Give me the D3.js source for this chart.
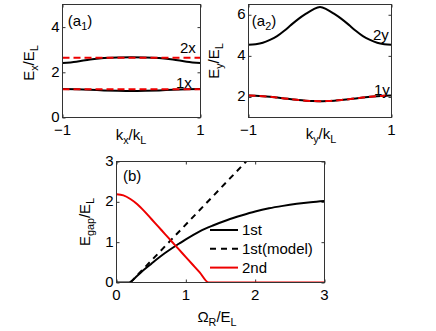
<!DOCTYPE html>
<html>
<head>
<meta charset="utf-8">
<script src="https://cdn.jsdelivr.net/npm/d3@7"></script>
<style>
  body { margin: 0; background: #fff; }
  text { font-family: "Liberation Sans", Arial, Helvetica, sans-serif; fill: #000; }
</style>
</head>
<body>
<div id="chart"></div>
<script>
// panel (a1): bands along kx
const kx = [-1, -0.8, -0.6, -0.4, -0.2, 0, 0.2, 0.4, 0.6, 0.8, 1];
const band1x = [1.26, 1.25, 1.23, 1.20, 1.18, 1.17, 1.18, 1.20, 1.23, 1.25, 1.26];
const band2x = [2.41, 2.47, 2.57, 2.63, 2.66, 2.67, 2.66, 2.63, 2.57, 2.47, 2.41];
const model1x = [1.25, 1.25, 1.25, 1.25, 1.25, 1.25, 1.25, 1.25, 1.25, 1.25, 1.25];
const model2x = [2.64, 2.64, 2.64, 2.64, 2.64, 2.64, 2.64, 2.64, 2.64, 2.64, 2.64];

// panel (a2): bands along ky
const ky = [-1, -0.9, -0.8, -0.7, -0.6, -0.5, -0.4, -0.3, -0.2, -0.1, 0,
            0.1, 0.2, 0.3, 0.4, 0.5, 0.6, 0.7, 0.8, 0.9, 1];
const band1y = [2.07, 2.06, 2.04, 2.01, 1.97, 1.93, 1.89, 1.85, 1.82, 1.80, 1.79,
                1.80, 1.82, 1.85, 1.89, 1.93, 1.97, 2.01, 2.04, 2.06, 2.07];
const band2y = [4.54, 4.57, 4.64, 4.78, 4.96, 5.22, 5.52, 5.80, 6.04, 6.25, 6.38,
                6.25, 6.04, 5.80, 5.52, 5.22, 4.96, 4.78, 4.64, 4.57, 4.54];
const model1y = [2.07, 2.06, 2.04, 2.01, 1.97, 1.93, 1.89, 1.85, 1.82, 1.80, 1.79,
                 1.80, 1.82, 1.85, 1.89, 1.93, 1.97, 2.01, 2.04, 2.06, 2.07];

// panel (b): gaps vs Rabi frequency
const omega1 = [0, 0.1, 0.18, 0.3, 0.4, 0.5, 0.6, 0.7, 0.8, 0.9, 1.0, 1.2, 1.4, 1.6, 1.8, 2.0, 2.2, 2.4, 2.6, 2.8, 3.0];
const gap1st = [0, 0, 0, 0.17, 0.32, 0.46, 0.60, 0.73, 0.85, 0.96, 1.07, 1.27, 1.42, 1.55, 1.66, 1.76, 1.84, 1.90, 1.95, 1.99, 2.02];
const omegaModel = [0.2, 1.87];
const gapModel = [0, 3];
const omega2 = [0, 0.1, 0.2, 0.3, 0.4, 0.5, 0.6, 0.7, 0.8, 0.9, 1.0, 1.1, 1.2, 1.33, 1.5, 2.0, 2.5, 3.0];
const gap2nd = [2.19, 2.16, 2.07, 1.94, 1.77, 1.58, 1.39, 1.20, 1.01, 0.82, 0.63, 0.44, 0.25, 0, 0, 0, 0, 0];

const legendLabels = ['1st', '1st(model)', '2nd'];

const width = 436, height = 331;
const svg = d3.select('#chart').append('svg')
    .attr('width', width)
    .attr('height', height);

svg.append('defs').selectAll('clipPath')
  .data(['a1', 'a2', 'b'])
  .join('clipPath')
    .attr('id', d => 'clip-' + d)
  .append('rect');

function panel(id, box, xDomain, yDomain, xTicks, yTicks) {
  const x = d3.scaleLinear().domain(xDomain).range([box.left, box.right]);
  const y = d3.scaleLinear().domain(yDomain).range([box.bottom, box.top]);
  svg.select('#clip-' + id + ' rect')
      .attr('x', box.left).attr('y', box.top)
      .attr('width', box.right - box.left).attr('height', box.bottom - box.top);
  const g = svg.append('g').attr('id', id);
  const fmt = d => d < 0 ? '\u2212' + Math.abs(d) : String(d);
  const tl = 3;

  // inward ticks on all four sides
  g.append('g').attr('transform', `translate(0,${box.bottom})`)
      .call(d3.axisTop(x).tickValues(xTicks).tickSize(tl).tickFormat(''));
  g.append('g').attr('transform', `translate(0,${box.top})`)
      .call(d3.axisBottom(x).tickValues(xTicks).tickSize(tl).tickFormat(''));
  g.append('g').attr('transform', `translate(${box.left},0)`)
      .call(d3.axisRight(y).tickValues(yTicks).tickSize(tl).tickFormat(''));
  g.append('g').attr('transform', `translate(${box.right},0)`)
      .call(d3.axisLeft(y).tickValues(yTicks).tickSize(tl).tickFormat(''));
  g.selectAll('.domain').remove();
  g.selectAll('.tick line').attr('stroke', '#333');

  g.append('g').selectAll('text')
    .data(xTicks)
    .join('text')
      .attr('x', d => x(d))
      .attr('y', box.bottom + 17)
      .attr('text-anchor', 'middle')
      .attr('font-size', 15)
      .text(fmt);
  g.append('g').selectAll('text')
    .data(yTicks)
    .join('text')
      .attr('x', box.left - 3)
      .attr('y', d => y(d) + 4.5)
      .attr('text-anchor', 'end')
      .attr('font-size', 15)
      .text(fmt);

  const plot = g.append('g').attr('clip-path', `url(#clip-${id})`);
  g.append('rect')
      .attr('x', box.left).attr('y', box.top)
      .attr('width', box.right - box.left).attr('height', box.bottom - box.top)
      .attr('fill', 'none')
      .attr('stroke', '#333')
      .attr('stroke-width', 1);
  return {x, y, g, plot};
}

function curve(p, xs, ys, color, dash, smooth) {
  const line = d3.line()
      .x((d, i) => p.x(xs[i]))
      .y(d => p.y(d))
      .curve(smooth === false ? d3.curveLinear : d3.curveMonotoneX);
  p.plot.append('path')
      .datum(ys)
      .attr('d', line)
      .attr('fill', 'none')
      .attr('stroke', color)
      .attr('stroke-width', 2)
      .attr('stroke-dasharray', dash || null);
}

// text with subscripts: parts = [[text, isSub], ...]
function label(g, parts, x, y, size, rotate) {
  const t = g.append('text')
      .attr('text-anchor', 'middle')
      .attr('font-size', size)
      .attr('transform', `translate(${x},${y})` + (rotate ? ' rotate(-90)' : ''));
  let sub = false;
  parts.forEach(([s, isSub]) => {
    const ts = t.append('tspan').text(s);
    if (isSub && !sub) ts.attr('dy', 4).attr('font-size', size * 0.72);
    if (!isSub && sub) ts.attr('dy', -4);
    if (isSub && sub) ts.attr('font-size', size * 0.72);
    sub = isSub;
  });
  return t;
}

// (a1)
const a1 = panel('a1', {left: 62.5, right: 200.5, top: 4.5, bottom: 117.5},
                 [-1, 1], [0, 5], [-1, 1], [0, 2, 4]);
curve(a1, kx, band1x, '#000');
curve(a1, kx, band2x, '#000');
curve(a1, kx, model1x, '#ee0000', '7,4');
curve(a1, kx, model2x, '#ee0000', '7,4');
label(a1.g, [['E', false], ['x', true], ['/E', false], ['L', true]], 34, 63, 15, true);
label(a1.g, [['k', false], ['x', true], ['/k', false], ['L', true]], 131, 140, 15, false);
label(a1.g, [['(a', false], ['1', true], [')', false]], 80, 26, 15, false);
a1.g.append('text').attr('x', 180).attr('y', 53).attr('font-size', 15).text('2x');
a1.g.append('text').attr('x', 176).attr('y', 88).attr('font-size', 15).text('1x');

// (a2)
const a2 = panel('a2', {left: 248.5, right: 391.5, top: 4.5, bottom: 117.5},
                 [-1, 1], [1, 6.5], [-1, 1], [2, 4, 6]);
curve(a2, ky, band2y, '#000');
curve(a2, ky, band1y, '#000');
curve(a2, ky, model1y, '#ee0000', '7,4');
label(a2.g, [['E', false], ['y', true], ['/E', false], ['L', true]], 219, 61, 15, true);
label(a2.g, [['k', false], ['y', true], ['/k', false], ['L', true]], 321, 139, 15, false);
label(a2.g, [['(a', false], ['2', true], [')', false]], 264, 26, 15, false);
a2.g.append('text').attr('x', 373).attr('y', 40).attr('font-size', 15).text('2y');
a2.g.append('text').attr('x', 374).attr('y', 95).attr('font-size', 15).text('1y');

// (b)
const b = panel('b', {left: 116.5, right: 324.5, top: 161.5, bottom: 282.5},
                [0, 3], [0, 3], [0, 1, 2, 3], [0, 1, 2, 3]);
curve(b, omega1, gap1st, '#000', null, true);
curve(b, omegaModel, gapModel, '#000', '6,5', false);
curve(b, omega2, gap2nd, '#ee0000', null, true);
label(b.g, [['E', false], ['gap', true], ['/E', false], ['L', true]], 90, 222, 15, true);
label(b.g, [['\u03A9', false], ['R', true], ['/E', false], ['L', true]], 217, 322, 15, false);
b.g.append('text').attr('x', 123).attr('y', 181).attr('font-size', 15).text('(b)');

const legendStyle = [{color: '#000', dash: null}, {color: '#000', dash: '6,5'}, {color: '#ee0000', dash: null}];
const legend = b.g.append('g').selectAll('g')
  .data(legendLabels)
  .join('g')
    .attr('transform', (d, i) => `translate(210,${230 + i * 18.8})`);
legend.append('line')
    .attr('x1', 0).attr('x2', 28)
    .attr('stroke', (d, i) => legendStyle[i].color)
    .attr('stroke-width', 2)
    .attr('stroke-dasharray', (d, i) => legendStyle[i].dash);
legend.append('text')
    .attr('x', 32)
    .attr('y', 5)
    .attr('font-size', 15)
    .text(d => d);
</script>
</body>
</html>
